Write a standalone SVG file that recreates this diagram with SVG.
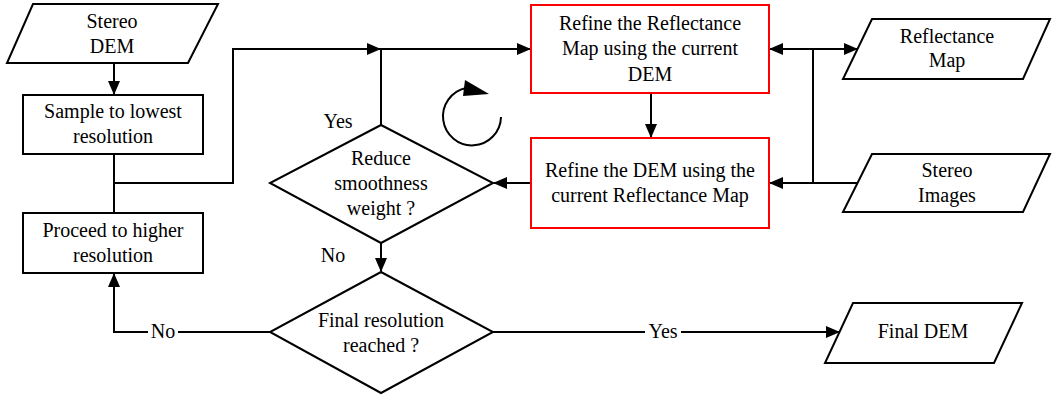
<svg xmlns="http://www.w3.org/2000/svg" width="1053" height="399" viewBox="0 0 1053 399" font-family="'Liberation Serif', 'DejaVu Serif', serif">
<style>
.n{fill:#fff;stroke:#000;stroke-width:2}
.r{fill:#fff;stroke:#f00;stroke-width:2}
.c{fill:none;stroke:#000;stroke-width:2}
text{font-family:'Liberation Serif','DejaVu Serif',serif;font-size:20px;fill:#000;text-anchor:middle}
.lbl{fill:#fff;stroke:none}
</style>
<defs>
<marker id="a" markerUnits="userSpaceOnUse" markerWidth="14" markerHeight="12" refX="13" refY="6" orient="auto">
<path d="M0,0 L14,6 L0,12 Z" fill="#000"/>
</marker>
</defs>
<g id="connectors">
<path class="c" d="M114 63 V94" marker-end="url(#a)"/>
<path class="c" d="M114 154 V213"/>
<path class="c" d="M114 183 H233 V49 H380" marker-end="url(#a)"/>
<path class="c" d="M381 125 V49 H530" marker-end="url(#a)"/>
<path class="c" d="M651 93 V137" marker-end="url(#a)"/>
<path class="c" d="M531 183 H494" marker-end="url(#a)"/>
<path class="c" d="M813 49 H770" marker-end="url(#a)"/>
<path class="c" d="M813 49 H857" marker-end="url(#a)"/>
<path class="c" d="M813 49 V183"/>
<path class="c" d="M858 183 H770" marker-end="url(#a)"/>
<path class="c" d="M381 243 V271" marker-end="url(#a)"/>
<path class="c" d="M270 332 H114 V274" marker-end="url(#a)"/>
<path class="c" d="M493 332 H839" marker-end="url(#a)"/>
<rect class="lbl" x="148" y="322" width="30" height="20"/>
<text x="163" y="338">No</text>
<rect class="lbl" x="645" y="322" width="36" height="20"/>
<text x="663" y="338">Yes</text>
<text x="338" y="128">Yes</text>
<text x="333" y="262">No</text>
</g>
<g id="cycle">
<path class="c" d="M501 117 A29 29 0 1 1 466 88"/>
<path d="M465 80 L489 94 L463 96 Z" fill="#000"/>
</g>
<g id="stereo-dem">
<path class="n" d="M33 4 H218 L188 63 H7 Z"/>
<text x="112" y="28">Stereo</text>
<text x="112" y="53">DEM</text>
</g>
<g id="sample">
<rect class="n" x="23" y="95" width="180" height="59"/>
<text x="113" y="118">Sample to lowest</text>
<text x="113" y="143">resolution</text>
</g>
<g id="proceed">
<rect class="n" x="23" y="213" width="180" height="60"/>
<text x="113" y="237">Proceed to higher</text>
<text x="113" y="262">resolution</text>
</g>
<g id="reduce">
<path class="n" d="M381 125 L493 183 L381 243 L270 183 Z"/>
<text x="381" y="165">Reduce</text>
<text x="381" y="190">smoothness</text>
<text x="381" y="215">weight ?</text>
</g>
<g id="final-res">
<path class="n" d="M381 272 L493 332 L381 393 L270 332 Z"/>
<text x="381" y="327">Final resolution</text>
<text x="381" y="352">reached ?</text>
</g>
<g id="refine-map">
<rect class="r" x="531" y="5" width="238" height="88"/>
<text x="650" y="30">Refine the Reflectance</text>
<text x="650" y="55">Map using the current</text>
<text x="650" y="81">DEM</text>
</g>
<g id="refine-dem">
<rect class="r" x="531" y="138" width="238" height="90"/>
<text x="650" y="177">Refine the DEM using the</text>
<text x="650" y="202">current Reflectance Map</text>
</g>
<g id="reflectance-map">
<path class="n" d="M872 19 H1050 L1023 79 H843 Z"/>
<text x="947" y="43">Reflectance</text>
<text x="947" y="67">Map</text>
</g>
<g id="stereo-images">
<path class="n" d="M872 154 H1050 L1023 212 H843 Z"/>
<text x="947" y="177">Stereo</text>
<text x="947" y="202">Images</text>
</g>
<g id="final-dem">
<path class="n" d="M853 303 H1022 L994 363 H825 Z"/>
<text x="923" y="338">Final DEM</text>
</g>
</svg>
